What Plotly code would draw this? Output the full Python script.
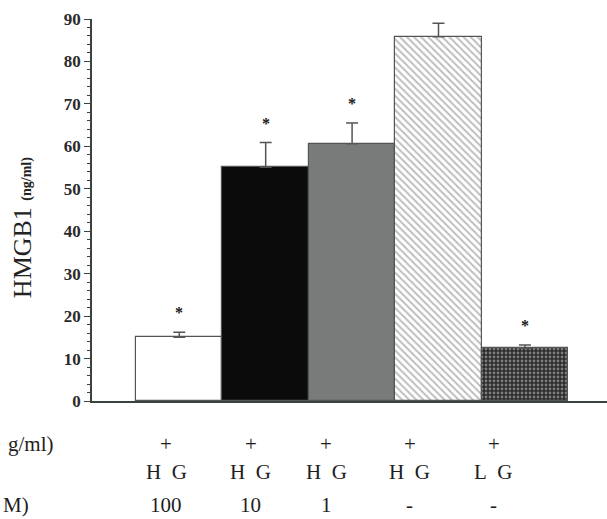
import plotly.graph_objects as go

# HMGB1 release per treatment group (ng/ml), mean and upper SE
groups = ["g1", "g2", "g3", "g4", "g5"]
hmgb1_mean = [15.0, 55.1, 60.6, 85.8, 12.4]
hmgb1_err = [1.2, 5.8, 4.9, 3.2, 0.8]
significant = [True, True, True, False, True]

# condition rows printed under the bars
row_plus = ["+", "+", "+", "+", "+"]
row_glucose = ["H\u2002G", "H\u2002G", "H\u2002G", "H\u2002G", "L\u2002G"]
row_dose = ["100", "10", "1", "-", "-"]

y_ticks = [0, 10, 20, 30, 40, 50, 60, 70, 80, 90]

SERIF = "Liberation Serif, Times New Roman, serif"
AXIS = "#3b433f"

# per-bar fill styles: (background, pattern shape, pattern colour, size, solidity)
bar_styles = [
    ("#ffffff", "", "#000000", 6, 0.3),
    ("#0b0b0b", "", "#000000", 6, 0.3),
    ("#787b79", "", "#000000", 6, 0.3),
    ("#ffffff", "\\", "#7c7c7c", 5, 0.4),
    ("#2a2a2a", ".", "#d0d0d0", 4, 0.4),
]

fig = go.Figure()
for i, (g, m, e) in enumerate(zip(groups, hmgb1_mean, hmgb1_err)):
    bg, shape, fg, size, sol = bar_styles[i]
    pattern = dict(shape=shape, fgcolor=fg, bgcolor=bg, size=size,
                   solidity=sol, fillmode="overlay") if shape else None
    fig.add_trace(go.Bar(
        x=[i],
        y=[m],
        width=1.0,
        name=g,
        marker=dict(
            color=bg,
            line=dict(color="#555555", width=1.2),
            pattern=pattern,
        ),
        error_y=dict(
            type="data",
            array=[e],
            arrayminus=[0],
            symmetric=False,
            color="#555555",
            thickness=1.5,
            width=6,
        ),
        showlegend=False,
        hoverinfo="skip",
    ))

annotations = []

# significance marks above the error bars
for i, (m, e, s) in enumerate(zip(hmgb1_mean, hmgb1_err, significant)):
    if s:
        annotations.append(dict(
            x=i, y=m + e, xref="x", yref="y",
            text="<b>*</b>", showarrow=False,
            yanchor="bottom", yshift=9,
            font=dict(family=SERIF, size=16, color="#1a1a1a"),
        ))

# treatment table below the axis
label_x = [-0.15, 0.83, 1.70, 2.67, 3.64]
row_y = [-0.112, -0.185, -0.272]
for row, yy in zip([row_plus, row_glucose, row_dose], row_y):
    for lx, txt in zip(label_x, row):
        annotations.append(dict(
            x=lx, y=yy, xref="x", yref="paper",
            text=txt, showarrow=False,
            xanchor="center", yanchor="middle",
            font=dict(family=SERIF, size=21, color="#1e1e1e"),
        ))

annotations.append(dict(
    x=-0.07, y=row_y[0], xref="paper", yref="paper",
    text="g/ml)", showarrow=False, xanchor="right", yanchor="middle",
    font=dict(family=SERIF, size=21, color="#1e1e1e"),
))
annotations.append(dict(
    x=-0.118, y=row_y[2], xref="paper", yref="paper",
    text="M)", showarrow=False, xanchor="right", yanchor="middle",
    font=dict(family=SERIF, size=21, color="#1e1e1e"),
))

# y-axis title
annotations.append(dict(
    x=-0.136, y=0.455, xref="paper", yref="paper",
    text="HMGB1 <span style='font-size:14px;font-weight:bold'>(ng/ml)</span>",
    textangle=-90, showarrow=False,
    xanchor="center", yanchor="middle",
    font=dict(family=SERIF, size=26, color="#222222"),
))

fig.update_layout(
    width=607,
    height=519,
    margin=dict(l=92, r=0, t=19, b=118),
    paper_bgcolor="white",
    plot_bgcolor="white",
    bargap=0,
    barmode="overlay",
    annotations=annotations,
    xaxis=dict(
        range=[-1.01, 4.95],
        showline=True, linecolor=AXIS, linewidth=1.5,
        showticklabels=False, ticks="", showgrid=False, zeroline=False,
        fixedrange=True,
    ),
    yaxis=dict(
        range=[0, 90],
        tickvals=y_ticks,
        ticks="outside", ticklen=6, tickwidth=1.4, tickcolor=AXIS,
        minor=dict(dtick=2, ticks="outside", ticklen=3.5, tickwidth=1.1, tickcolor=AXIS),
        showline=True, linecolor=AXIS, linewidth=1.5,
        showgrid=False, zeroline=False,
        tickfont=dict(family=SERIF, size=17, color="#2a2a2a", weight="bold"),
        fixedrange=True,
    ),
)

fig.write_html("out.html")
